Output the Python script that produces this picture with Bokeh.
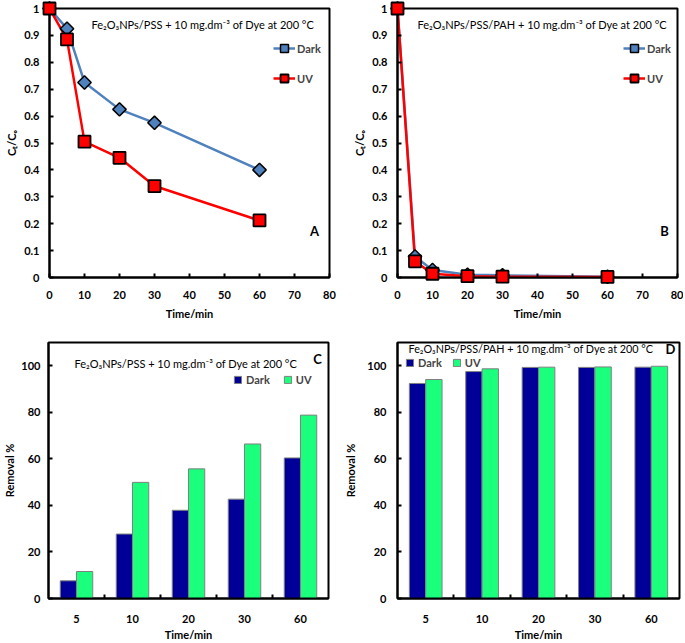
import numpy as np
from bokeh.plotting import figure
from bokeh.models import (Range1d, FixedTicker, Label, Legend, LegendItem,
                          CustomJSTickFormatter, ColumnDataSource)
from bokeh.layouts import column, row
from bokeh.transform import dodge
from bokeh.embed import file_html
from bokeh.resources import INLINE

# ---------------- data ----------------
time_min = [0, 5, 10, 20, 30, 60]
a_dark = [1.0, 0.925, 0.725, 0.625, 0.575, 0.40]
a_uv = [1.0, 0.885, 0.505, 0.445, 0.34, 0.212]
b_dark = [1.0, 0.078, 0.028, 0.010, 0.008, 0.003]
b_uv = [1.0, 0.06, 0.014, 0.005, 0.003, 0.002]

bar_times = ["5", "10", "20", "30", "60"]
c_dark = [7.6, 27.7, 37.9, 42.7, 60.4]
c_uv = [11.6, 49.9, 55.7, 66.4, 78.8]
d_dark = [92.4, 97.5, 99.3, 99.3, 99.4]
d_uv = [94.1, 98.7, 99.4, 99.5, 99.8]

x_ticks = [0, 10, 20, 30, 40, 50, 60, 70, 80]
y_ticks_frac = [0, 0.1, 0.2, 0.3, 0.4, 0.5, 0.6, 0.7, 0.8, 0.9, 1.0]
y_ticks_pct = [0, 20, 40, 60, 80, 100]

title_a = "Fe\u2082O\u2083NPs/PSS + 10 mg.dm\u207b\u00b3 of Dye at 200 \u00b0C"
title_b = "Fe\u2082O\u2083NPs/PSS/PAH + 10 mg.dm\u207b\u00b3 of Dye at 200 \u00b0C"

FONT = "Lato"
BLUE = "#4F81BD"
RED = "#FF0000"
NAVY = "#000099"
GREEN = "#1AFF7C"


def style(p):
    p.xgrid.visible = False
    p.ygrid.visible = False
    p.outline_line_color = "black"
    p.outline_line_width = 2
    p.outline_line_alpha = 1
    p.background_fill_color = "white"
    p.border_fill_color = "white"
    for ax in p.axis:
        ax.axis_line_width = 2
        ax.axis_line_color = "black"
        ax.major_tick_line_width = 2
        ax.major_tick_line_color = "black"
        ax.major_tick_in = 4
        ax.major_tick_out = 0
        ax.minor_tick_line_color = None
        ax.major_label_text_font = FONT
        ax.major_label_text_font_style = "bold"
        ax.major_label_text_font_size = "11px"
        ax.major_label_text_color = "black"
        ax.axis_label_text_font = FONT
        ax.axis_label_text_font_style = "bold"
        ax.axis_label_text_font_size = "11px"
        ax.axis_label_text_color = "black"


def line_panel(width, left, right, dark, uv, title, letter, title_x, legend_x, letter_x):
    p = figure(width=width, height=325, x_range=Range1d(0, 80), y_range=Range1d(0, 1),
               min_border_left=left, min_border_right=right, min_border_top=8,
               min_border_bottom=48, output_backend="svg", toolbar_location=None)
    style(p)
    p.xaxis.ticker = FixedTicker(ticks=x_ticks)
    p.yaxis.ticker = FixedTicker(ticks=y_ticks_frac)
    p.yaxis.formatter = CustomJSTickFormatter(code="return tick.toFixed(1).replace(/\\.0$/, '')")
    p.xaxis.major_label_standoff = 13
    p.xaxis.axis_label_standoff = 5
    p.yaxis.major_label_standoff = 10
    p.yaxis.axis_label_standoff = 3
    p.xaxis.axis_label = "Time/min"
    p.yaxis.axis_label = "C\u209c/C\u2092"

    src = ColumnDataSource(dict(t=time_min, dark=dark, uv=uv))
    l1 = p.line("t", "dark", source=src, line_color=BLUE, line_width=2.5)
    s1 = p.scatter("t", "dark", source=src, marker="square", angle=np.pi / 4, size=9.5,
                   fill_color=BLUE, line_color="black", line_width=1.5, level="overlay")
    l2 = p.line("t", "uv", source=src, line_color=RED, line_width=2.5)
    s2 = p.scatter("t", "uv", source=src, marker="square", size=12,
                   fill_color=RED, line_color="black", line_width=1.8, level="overlay")

    leg = Legend(items=[LegendItem(label="Dark", renderers=[l1, s1]),
                        LegendItem(label="UV", renderers=[l2, s2])],
                 location=(legend_x, 189), orientation="vertical",
                 glyph_width=22, glyph_height=20, label_height=20, spacing=10,
                 padding=0, margin=0, border_line_alpha=0, background_fill_alpha=0,
                 label_text_font=FONT, label_text_font_style="bold",
                 label_text_font_size="11px", label_standoff=2)
    p.add_layout(leg)
    p.add_layout(Label(x=title_x, y=253, x_units="screen", y_units="screen", text=title,
                       text_font=FONT, text_font_size="11px", text_baseline="middle",
                       text_color="black"))
    p.add_layout(Label(x=letter_x, y=47, x_units="screen", y_units="screen", text=letter,
                       text_font=FONT, text_font_size="13px", text_font_style="bold",
                       text_align="center", text_baseline="middle", text_color="black"))
    return p


def bar_panel(width, left, right, top, frame_h, dark, uv, title, letter, title_x, title_y,
              letter_x, letter_y, legend_loc, legend_spacing, title_size,
              ylab_standoff, yaxis_standoff):
    idx = list(range(len(bar_times)))
    p = figure(width=width, height=top + frame_h + 43, x_range=Range1d(-0.5, len(idx) - 0.5),
               y_range=Range1d(0, 110),
               min_border_left=left, min_border_right=right, min_border_top=top,
               min_border_bottom=43, output_backend="svg", toolbar_location=None)
    style(p)
    p.xaxis.ticker = FixedTicker(ticks=idx, minor_ticks=[i + 0.5 for i in idx[:-1]])
    p.xaxis.formatter = CustomJSTickFormatter(args=dict(labels=bar_times),
                                              code="return labels[Math.round(tick)]")
    p.yaxis.ticker = FixedTicker(ticks=y_ticks_pct)
    p.xaxis.major_tick_in = 0
    p.xaxis.minor_tick_line_color = "black"
    p.xaxis.minor_tick_line_width = 2
    p.xaxis.minor_tick_in = 4
    p.xaxis.minor_tick_out = 0
    p.xaxis.major_label_standoff = 16
    p.xaxis.axis_label_standoff = 2
    p.yaxis.major_label_standoff = ylab_standoff
    p.yaxis.axis_label_standoff = yaxis_standoff
    p.xaxis.axis_label = "Time/min"
    p.yaxis.axis_label = "Removal %"

    src = ColumnDataSource(dict(i=idx, dark=dark, uv=uv))
    r1 = p.vbar(x=dodge("i", -0.145), top="dark", width=0.29, source=src,
                fill_color=NAVY, line_color="#808080", line_width=1)
    r2 = p.vbar(x=dodge("i", 0.145), top="uv", width=0.29, source=src,
                fill_color=GREEN, line_color="#808080", line_width=1)
    leg = Legend(items=[LegendItem(label="Dark", renderers=[r1]),
                        LegendItem(label="UV", renderers=[r2])],
                 location=legend_loc, orientation="horizontal",
                 glyph_width=9, glyph_height=9, label_height=12, spacing=legend_spacing,
                 padding=0, margin=0, border_line_alpha=0, background_fill_alpha=0,
                 label_text_font=FONT, label_text_font_style="bold",
                 label_text_font_size="11px", label_standoff=4)
    p.add_layout(leg)
    p.add_layout(Label(x=title_x, y=title_y, x_units="screen", y_units="screen", text=title,
                       text_font=FONT, text_font_size=title_size, text_baseline="middle",
                       text_color="black"))
    p.add_layout(Label(x=letter_x, y=letter_y, x_units="screen", y_units="screen", text=letter,
                       text_font=FONT, text_font_size="13px", text_font_style="bold",
                       text_align="center", text_baseline="middle", text_color="black"))
    return p


pa = line_panel(341, 49, 12, a_dark, a_uv, title_a, "A", 42, 224, 265)
pb = line_panel(342, 56, 6, b_dark, b_uv, title_b, "B", 20, 226, 267)
pc = bar_panel(341, 46, 13, 17, 258, c_dark, c_uv, title_a, "C", 26, 235, 269, 240,
               (185, 212), 13, "11px", 8, 2)
pd = bar_panel(342, 56, 4, 11, 264, d_dark, d_uv, title_b, "D", 11, 250, 273, 250,
               (8, 229), 10, "10.8px", 11, 7)

layout = column(row(pa, pb, spacing=0), row(pc, pd, spacing=0), spacing=0)
open("out.html", "w").write(file_html(layout, INLINE))
